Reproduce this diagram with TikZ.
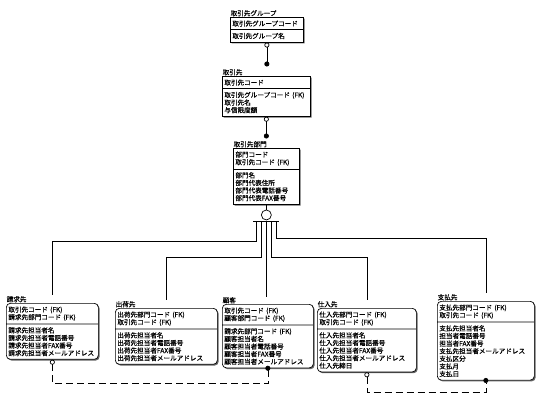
\documentclass[tikz,border=0pt]{standalone}
\usepackage{fontspec}
\newfontfamily\jpfont{Noto Sans CJK JP}[FakeBold=0.4]
\usepackage{tikz}
\usetikzlibrary{calc,positioning,shapes.multipart,shadows,arrows.meta}
\tikzset{ %entity boxes: key part on top, attributes below
  entity/.style={
    draw, fill=white, line width=0.7pt,
    rectangle split, rectangle split parts=2,
    align=left, inner xsep=2pt, inner ysep=2.8pt,
    font=\jpfont\fontsize{6.6}{7.6}\selectfont,
    drop shadow={shadow xshift=1.3pt, shadow yshift=-1.3pt, fill=black!60, opacity=1},
    anchor=north west
  },
  indep/.style={entity, text width=#1},
  dep/.style={entity, rounded corners=4pt, text width=#1},
  etitle/.style={inner sep=0.5pt, font=\jpfont\fontsize{6.6}{7.6}\selectfont},
  rel/.style={line width=0.7pt},
  ident/.style={rel, {Circle[open,length=5pt]}-{Circle[length=5pt]}, shorten >=2pt},
  nonident/.style={rel, dash pattern=on 7pt off 4pt,
    {Circle[open,length=5pt]}-{Circle[length=5pt]}, shorten >=-2.5pt}
}

\begin{document}
\begin{tikzpicture}[x=1pt, y=-1pt] % pixel units, y grows downwards
\useasboundingbox (0,0) rectangle (550,404);

% independent entities
\node[indep=69pt] (grp) at (230,17) {取引先グループコード \nodepart{second} 取引先グループ名};
\node[etitle, above right=0pt of grp.north west] (grp-t) {取引先グループ};

\node[indep=84pt] (ent) at (222,76) {取引先コード
  \nodepart{second} 取引先グループコード (FK)\\取引先名\\与信限度額};
\node[etitle, above right=0pt of ent.north west] (ent-t) {取引先};

\node[indep=62pt] (bu) at (233,148) {部門コード\\取引先コード (FK)
  \nodepart{second} 部門名\\部門代表住所\\部門代表電話番号\\部門代表FAX番号};
\node[etitle, above right=0pt of bu.north west] (bu-t) {取引先部門};

% dependent entities
\node[dep=88pt] (sk) at (6,303) {取引先コード (FK)\\請求先部門コード (FK)
  \nodepart{second} 請求先担当者名\\請求先担当者電話番号\\請求先担当者FAX番号\\請求先担当者メールアドレス};
\node[etitle, above right=0pt of sk.north west] (sk-t) {請求先};

\node[dep=98pt] (sy) at (115,308) {出荷先部門コード (FK)\\取引先コード (FK)
  \nodepart{second} 出荷先担当者名\\出荷先担当者電話番号\\出荷先担当者FAX番号\\出荷先担当者メールアドレス};
\node[etitle, above right=0pt of sy.north west] (sy-t) {出荷先};

\node[dep=87pt] (ky) at (222,304) {取引先コード (FK)\\顧客部門コード (FK)
  \nodepart{second} 請求先部門コード (FK)\\顧客担当者名\\顧客担当者電話番号\\顧客担当者FAX番号\\顧客担当者メールアドレス};
\node[etitle, above right=0pt of ky.north west] (ky-t) {顧客};

\node[dep=95pt] (si) at (317,308) {仕入先部門コード (FK)\\取引先コード (FK)
  \nodepart{second} 仕入先担当者名\\仕入先担当者電話番号\\仕入先担当者FAX番号\\仕入先担当者メールアドレス\\仕入先締日};
\node[etitle, above right=0pt of si.north west] (si-t) {仕入先};

\node[dep=93pt] (sh) at (437,301) {支払先部門コード (FK)\\取引先コード (FK)
  \nodepart{second} 支払先担当者名\\担当者電話番号\\担当者FAX番号\\支払先担当者メールアドレス\\支払区分\\支払月\\支払日};
\node[etitle, above right=0pt of sh.north west] (sh-t) {支払先};

% identifying relations
\draw[ident] (grp.south) -- (grp.south |- ent-t.north);
\draw[ident] (ent.south) -- (ent.south |- bu-t.north);

% category symbol
\node[draw, circle, minimum size=10pt, inner sep=0pt, line width=0.7pt,
  below=5pt of bu.south] (cat) {};
\draw[rel] (bu.south) -- (cat.north);
\coordinate (bar) at ([yshift=-1pt]cat.south);
\draw[rel] ([xshift=-13pt]bar) -- ([xshift=13pt]bar);
\foreach \i/\dx in {1/-10,2/-5,3/0,4/5,5/10}
  \coordinate (bar-\i) at ([xshift=\dx pt]bar);

\draw[rel] (bar-1) -- ++(0,20) -| (sk.north |- sk-t.north);
\draw[rel] (bar-2) -- ++(0,36) -| (sy.north |- sy-t.north);
\draw[rel] (bar-3) -- (bar-3 |- ky-t.north);
\draw[rel] (bar-4) -- ++(0,36) -| (si.north |- si-t.north);
\draw[rel] (bar-5) -- ++(0,17) -| (sh.north |- sh-t.north);

% non-identifying relations
\draw[nonident] (sk.south) -- ++(0,24) -| (ky.south);
\draw[nonident] (si.south) -- ++(0,20) -| (sh.south);

\end{tikzpicture}
\end{document}
